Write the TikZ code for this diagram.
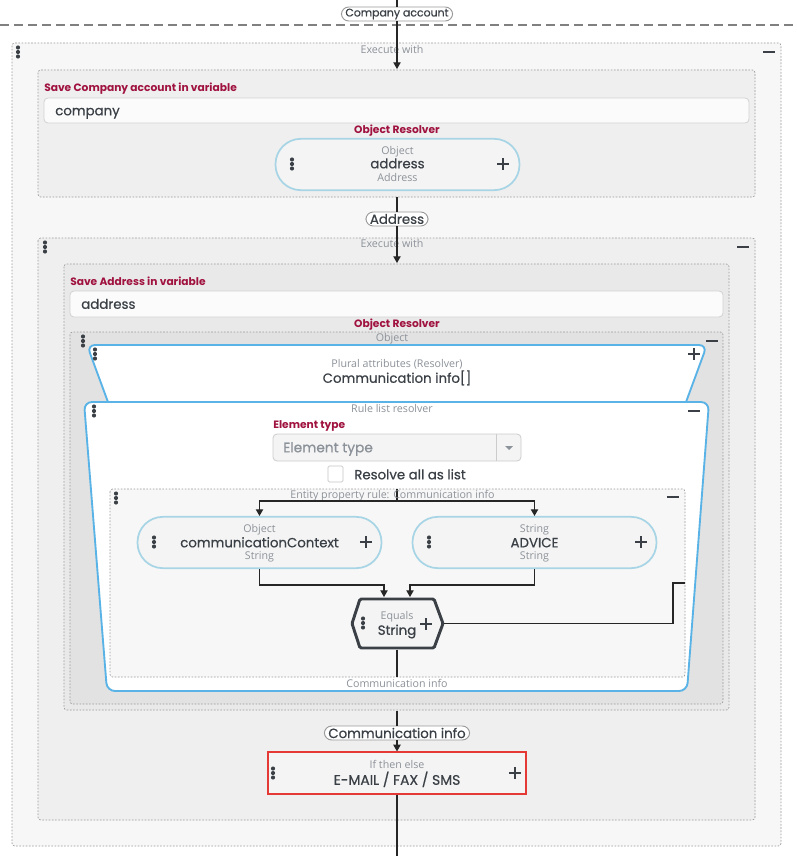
\documentclass[tikz,border=0pt]{standalone}
\usepackage{fontspec}
\setmainfont{Poppins}
\newfontfamily\notefont{Open Sans}
\newfontfamily\valuefont[FakeBold=0.6]{Poppins}
\usetikzlibrary{arrows.meta,calc,positioning}

\definecolor{boxlight}{HTML}{F7F7F7}
\definecolor{boxmid}{HTML}{EFEFEF}
\definecolor{boxdark}{HTML}{E9E9E9}
\definecolor{boxdeep}{HTML}{E2E2E2}
\definecolor{dotline}{HTML}{9A9A9A}
\definecolor{labelred}{HTML}{A0123F}
\definecolor{inktext}{HTML}{3A4046}
\definecolor{greytext}{HTML}{8C9299}
\definecolor{paleblue}{HTML}{A8D5E5}
\definecolor{brightblue}{HTML}{5AB3E6}
\definecolor{alertred}{HTML}{E53935}
\definecolor{pillfill}{HTML}{F4F4F4}

\newcommand\kebab[1]{\foreach \dy in {-4.5,0,4.5} \fill[inktext] ($(#1)+(0,\dy)$) circle (1.55pt);}
\newcommand\plusmark[1]{\draw[inktext, line width=1.8pt] ($(#1)+(-6,0)$) -- ++(12,0) ($(#1)+(0,-6)$) -- ++(0,12);}
\newcommand\minusmark[1]{\draw[inktext, line width=1.8pt] ($(#1)+(-6,0)$) -- ++(12,0);}

\begin{document}
\begin{tikzpicture}[x=0.75pt, y=-0.75pt]
    \tikzstyle{ruleframe} = [draw=dotline, dash pattern=on 1.2pt off 1.2pt, line width=0.5pt, rounded corners=2pt]
    \tikzstyle{flow} = [draw=black!85, line width=0.8pt]
    \tikzstyle{arrowed} = [-{Triangle[width=5.5pt,length=5pt]}]
    \tikzstyle{tag} = [draw=gray!80, fill=white, line width=0.7pt, rounded corners=5.5pt, inner xsep=3pt, inner ysep=0.8pt, minimum height=10.5pt, text=inktext]
    \tikzstyle{field label} = [text=labelred, font=\bfseries\fontsize{8}{9}\selectfont, anchor=west, inner sep=0pt, text height=5.6pt, text depth=0pt]
    \tikzstyle{note} = [text=greytext, font=\notefont\fontsize{8}{9}\selectfont, inner sep=0pt, text height=5.8pt, text depth=0pt]
    \tikzstyle{value} = [text=inktext, font=\valuefont\fontsize{10}{11}\selectfont, inner sep=0pt, text height=7.2pt, text depth=0pt]
    \tikzstyle{inputbox} = [draw=gray!35, fill=boxlight!50!white, rounded corners=3pt, line width=0.6pt]
    \tikzstyle{object pill} = [draw=paleblue, fill=pillfill, line width=1.3pt, rounded corners=19pt, minimum width=183pt, minimum height=38.5pt]
    \tikzstyle{blue frame} = [draw=brightblue, fill=white, line width=1.4pt, rounded corners=6pt]
    \tikzstyle{choicebox} = [draw=alertred, fill=pillfill, line width=1.4pt, minimum width=193pt, minimum height=31pt]

    \useasboundingbox (0,0) rectangle (796,856);
    \fill[white] (0,0) rectangle (796,856);

    % frames
    \draw[gray, line width=1.1pt, dash pattern=on 6.5pt off 4pt] (0,25) -- (796,25);
    \draw[ruleframe, fill=boxlight] (12,43) rectangle (781,846);
    \draw[ruleframe, fill=boxmid] (38,70) rectangle (755,197);
    \draw[ruleframe, fill=boxmid] (38,238) rectangle (755,820);
    \draw[ruleframe, fill=boxdark] (64,264) rectangle (729,710);
    \draw[ruleframe, fill=boxdeep] (70,332) rectangle (723,704);
    \draw[blue frame] (114.6,420) -- (87,345) -- (707,345) -- (679.4,420) -- cycle;
    \draw[blue frame] (84,402) -- (709,402) -- (687,691) -- (107,691) -- cycle;
    \draw[ruleframe, fill=boxlight] (110,489) rectangle (685,677);

    % company variable
    \node[note] at (392,50) {Execute with};
    \node[field label] at (44,88) {Save Company account in variable};
    \draw[inputbox] (44,98) rectangle (749,123);
    \node[value, anchor=west] at (55,110.5) {company};
    \node[field label, anchor=center] at (397,130) {Object Resolver};
    \node[object pill] (addr) at (397.5,164.5) {};
    \node[note] at ($(addr)+(0,-14)$) {Object};
    \node[value] at ($(addr)+(0,-1)$) {address};
    \node[note] at ($(addr)+(0,13)$) {Address};

    % address variable
    \node[note] at (392,244) {Execute with};
    \node[field label] at (70,282) {Save Address in variable};
    \draw[inputbox] (70,291) rectangle (723,317);
    \node[value, anchor=west] at (81,304) {address};
    \node[field label, anchor=center] at (397,324) {Object Resolver};
    \node[note] at (392,338) {Object};
    \node[note] at (397,364) {Plural attributes (Resolver)};
    \node[value] at (397,378) {Communication info[]};
    \node[note] at (392,409) {Rule list resolver};
    \node[field label] at (273,425) {Element type};
    \draw[draw=gray!40, fill=pillfill, rounded corners=3pt, line width=0.6pt] (273,434) rectangle (521,461);
    \draw[gray!40, line width=0.6pt] (496,434) -- (496,461);
    \fill[greytext] (505,446) -- (513,446) -- (509,450) -- cycle;
    \node[value, text=greytext, anchor=west, font=\valuefont\fontsize{10.3}{11}\selectfont] at (283,447.5) {Element type};
    \draw[draw=gray!45, fill=white, rounded corners=1pt, line width=0.6pt] (328,466) rectangle (343,482);
    \node[value, anchor=west] at (354,474.5) {Resolve all as list};

    % entity property rule
    \coordinate (entitytop) at (397,489);
    \coordinate (fork) at (397,501);
    \draw[flow] (entitytop) -- (fork);
    \node[note] at (392.5,495) {Entity property rule: Communication info};
    \node[object pill] (context) at (259.5,542.5) {};
    \node[note] at ($(context)+(0,-14)$) {Object};
    \node[value] at (context) {communicationContext};
    \node[note] at ($(context)+(0,13)$) {String};
    \node[object pill] (advice) at (534.5,542.5) {};
    \node[note] at ($(advice)+(0,-14)$) {String};
    \node[value] at (advice) {ADVICE};
    \node[note] at ($(advice)+(0,13)$) {String};
    \draw[draw=inktext, fill=pillfill, line width=2.2pt, rounded corners=1pt] (352,623.5) -- (360,599) -- (434,599) -- (443,623.5) -- (434,648) -- (360,648) -- cycle;
    \node[note] at (397,616) {Equals};
    \node[value] at (397,630) {String};
    \coordinate (eqleft) at (384,597);
    \coordinate (eqright) at (410,597);
    \coordinate (eqpoint) at (444,623.5);
    \coordinate (eqbottom) at (397,649.5);
    \coordinate (entitybottom) at (397,677);
    \coordinate (ruleexit) at (685,583);
    \draw[flow, arrowed] (fork) -| (context);
    \draw[flow, arrowed] (fork) -| (advice);
    \draw[flow, arrowed] (context) |- ($(eqleft)+(0,-12)$) -- (eqleft);
    \draw[flow, arrowed] (advice) |- ($(eqright)+(0,-12)$) -- (eqright);
    \draw[flow] (eqpoint) -| ($(ruleexit)+(-12,0)$) -- (ruleexit);
    \draw[flow] (eqbottom) -- (entitybottom);
    \node[note] at (397,684) {Communication info};

    % entry and exit
    \node[tag, font=\valuefont\fontsize{8.2}{9}\selectfont] (account) at (397,14) {Company account};
    \coordinate (entry) at (397,0);
    \coordinate (companyin) at (397,69);
    \draw[flow] (entry) -- (account);
    \draw[flow, arrowed] (account) -- (companyin);
    \node[tag, font=\valuefont\fontsize{10}{11}\selectfont] (addrtag) at (397,219) {Address};
    \coordinate (companyout) at (397,197);
    \coordinate (addressin) at (397,263);
    \draw[flow] (companyout) -- (addrtag);
    \draw[flow, arrowed] (addrtag) -- (addressin);
    \node[tag, font=\valuefont\fontsize{10}{11}\selectfont] (cinfo) at (397,733) {Communication info};
    \coordinate (addressout) at (397,711);
    \draw[flow] (addressout) -- (cinfo);
    \node[choicebox] (choice) at (397,773) {};
    \node[note] at (397,764.5) {If then else};
    \node[value, font=\valuefont\fontsize{10.4}{11}\selectfont] at (397,780) {E-MAIL / FAX / SMS};
    \coordinate (exit) at (397,856);
    \draw[flow, arrowed] (cinfo) -- (choice);
    \draw[flow] (choice) -- (exit);

    % menu handles
    \foreach \x/\y in {18/52, 45/247, 83/341, 95/354, 94/411, 116/498, 292/164, 154/542, 429/542, 363/623, 273/773}
        \kebab{\x,\y};
    \foreach \x/\y in {769/52, 743/247, 712/341, 694/411, 673/497}
        \minusmark{\x,\y};
    \foreach \x/\y in {694/354, 503/164, 366/542, 641/542, 426/624, 515/773}
        \plusmark{\x,\y};
\end{tikzpicture}
\end{document}
